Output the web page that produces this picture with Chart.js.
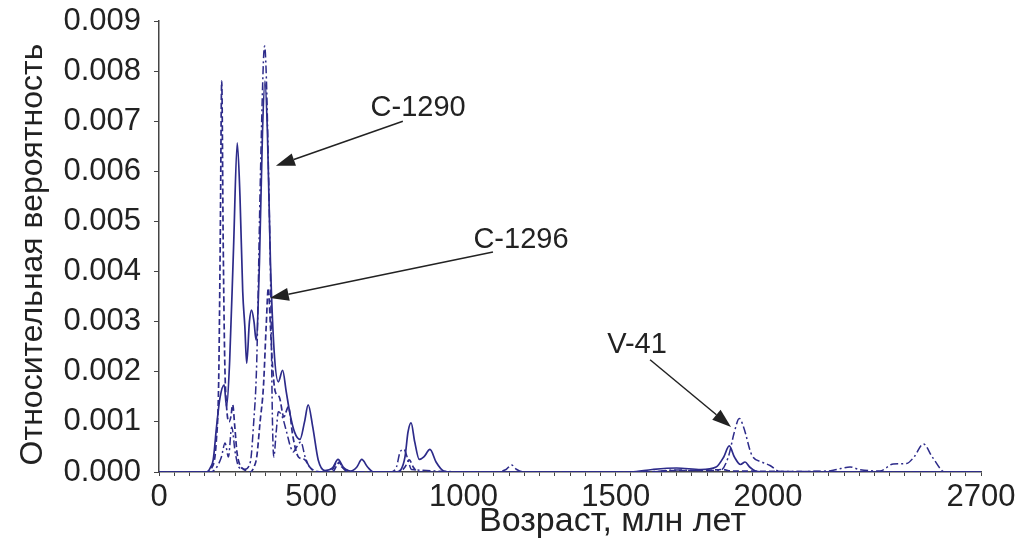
<!DOCTYPE html>
<html>
<head>
<meta charset="utf-8">
<script src="https://cdn.jsdelivr.net/npm/chart.js@4"></script>
<style>
  body { margin: 0; background: #fff; }
  #wrap { width: 1030px; height: 547px; }
</style>
</head>
<body>
<div id="wrap"><canvas id="chart" width="1030" height="547"></canvas></div>
<script>
// age (Ma) / relative probability pairs
const c1290 = [
    [0, 0], [140, 0], [157, 0], [170, 0.0001], [178, 0.00024], [189, 0.0009], [200, 0.00147],
    [214, 0.00174], [222, 0.0013], [232, 0.0022], [245, 0.0045], [257, 0.00657], [266, 0.0055],
    [275, 0.0036], [282, 0.0029], [288, 0.00217], [297, 0.003], [304, 0.00323], [312, 0.003],
    [319, 0.00263], [330, 0.0042], [340, 0.0068], [348, 0.0078], [356, 0.0068], [366, 0.0042],
    [378, 0.00243], [392, 0.0018], [406, 0.00203], [418, 0.0016], [430, 0.00117], [445, 0.0008],
    [463, 0.00065], [478, 0.001], [490, 0.00134], [505, 0.0009], [523, 0.00024], [545, 0.00003],
    [570, 0.00008], [588, 0.00025], [605, 0.0001], [630, 0.00002], [650, 0.0001], [666, 0.00025],
    [685, 0.0001], [705, 0], [780, 0], [795, 0.00005], [808, 0.0003], [818, 0.0008], [828, 0.00098],
    [840, 0.0006], [855, 0.00025], [870, 0.0003], [890, 0.00045], [910, 0.0002], [935, 0.00002],
    [960, 0], [1550, 0], [1620, 0.00005], [1700, 0.00008], [1780, 0.00005], [1830, 0.0001],
    [1855, 0.0003], [1873, 0.00052], [1890, 0.0003], [1910, 0.00015], [1925, 0.0002], [1940, 0.0001],
    [1960, 0.00002], [2000, 0], [2700, 0]
];

const c1296 = [
    [0, 0], [150, 0], [175, 0.0001], [188, 0.0006], [196, 0.0018], [201, 0.0045], [206, 0.0078],
    [211, 0.0045], [216, 0.0022], [222, 0.0013], [230, 0.001], [236, 0.0011], [242, 0.00134],
    [249, 0.0009], [256, 0.0004], [265, 0.00015], [280, 0.00005], [300, 0], [312, 0.0001],
    [321, 0.0003], [332, 0.001], [343, 0.0017], [352, 0.0029], [359, 0.00367], [366, 0.0029],
    [372, 0.0022], [382, 0.0016], [395, 0.0015], [410, 0.0011], [425, 0.0013], [440, 0.0007],
    [458, 0.0003], [478, 0.00025], [495, 0.0001], [515, 0], [570, 0], [583, 0.00012], [592, 0.0002],
    [602, 0.0001], [620, 0], [790, 0], [808, 0.0001], [822, 0.00024], [835, 0.0001], [850, 0],
    [1600, 0], [1700, 0.00003], [1800, 0.00003], [1850, 0.00005], [1880, 0.00002], [2700, 0]
];

const v41 = [
    [0, 0], [170, 0], [190, 0.0001], [205, 0.0003], [217, 0.00058], [228, 0.0003], [239, 0.0009],
    [250, 0.0004], [262, 0.0001], [280, 0.00005], [300, 0.0002], [310, 0.0009], [321, 0.0022],
    [332, 0.0056], [343, 0.0082], [347, 0.0085], [353, 0.0078], [359, 0.0062], [367, 0.0036],
    [373, 0.0009], [377, 0.0003], [385, 0.0008], [392, 0.0012], [405, 0.0011], [419, 0.0008],
    [432, 0.0005], [441, 0.0004], [452, 0.0005], [466, 0.0006], [480, 0.0003], [495, 0.0001],
    [540, 0], [570, 0.00005], [585, 0.0002], [600, 0.0001], [620, 0.00003], [650, 0], [760, 0],
    [780, 0.0001], [792, 0.0004], [805, 0.00045], [815, 0.0003], [830, 0.00005], [1100, 0],
    [1140, 0.00005], [1158, 0.00014], [1175, 0.00005], [1200, 0], [1600, 0], [1700, 0.00004],
    [1780, 0.00003], [1843, 0.00003], [1870, 0.0003], [1890, 0.0008], [1906, 0.00107], [1920, 0.0009],
    [1947, 0.00034], [1980, 0.0002], [2007, 0.00013], [2040, 0.00001], [2200, 0.00002], [2240, 0.00007],
    [2270, 0.0001], [2300, 0.00005], [2368, 0.00002], [2412, 0.00016], [2456, 0.00017], [2480, 0.0003],
    [2511, 0.00056], [2540, 0.0003], [2582, 0], [2700, 0]
];

const sampleNames = ['C-1290', 'C-1296', 'V-41'];

const xTickValues = [0, 500, 1000, 1500, 2000, 2700];
const xTickLabels = ['0', '500', '1000', '1500', '2000', '2700'];
const xMinorStep = 50;

// callout text centres and arrows, in data units (age, probability)
const calloutText = [[851, 0.00726], [1189, 0.00463], [1570, 0.00253]];
const arrowFrom = [[801, 0.00700], [1097, 0.00439], [1613, 0.00224]];
const arrowTo = [[384, 0.00611], [364, 0.00347], [1879, 0.00090]];

const NAVY = '#2d2b8a';
const INK = '#222';
const FONT = "'Liberation Sans', Arial, sans-serif";

function toPoints(pairs) {
    return pairs.map(p => ({ x: p[0], y: p[1] }));
}

const callouts = {
    id: 'callouts',
    afterDatasetsDraw(chart) {
        const { ctx, scales: { x, y } } = chart;
        ctx.save();
        ctx.fillStyle = INK;
        ctx.strokeStyle = INK;
        ctx.lineWidth = 1.5;
        ctx.font = `29px ${FONT}`;
        ctx.textAlign = 'center';
        ctx.textBaseline = 'middle';
        sampleNames.forEach((name, i) => {
            ctx.fillText(name, x.getPixelForValue(calloutText[i][0]), y.getPixelForValue(calloutText[i][1]));

            const x0 = x.getPixelForValue(arrowFrom[i][0]);
            const y0 = y.getPixelForValue(arrowFrom[i][1]);
            const x1 = x.getPixelForValue(arrowTo[i][0]);
            const y1 = y.getPixelForValue(arrowTo[i][1]);
            const ang = Math.atan2(y1 - y0, x1 - x0);
            const headLen = 19, headW = 6.5;
            const bx = x1 - headLen * Math.cos(ang);
            const by = y1 - headLen * Math.sin(ang);

            ctx.beginPath();
            ctx.moveTo(x0, y0);
            ctx.lineTo(bx, by);
            ctx.stroke();

            ctx.beginPath();
            ctx.moveTo(x1, y1);
            ctx.lineTo(bx + headW * Math.sin(ang), by - headW * Math.cos(ang));
            ctx.lineTo(bx - headW * Math.sin(ang), by + headW * Math.cos(ang));
            ctx.closePath();
            ctx.fill();
        });
        ctx.restore();
    }
};

const lineStyle = {
    borderColor: NAVY,
    borderWidth: 1.7,
    pointRadius: 0,
    fill: false,
    cubicInterpolationMode: 'monotone'
};

new Chart(document.getElementById('chart'), {
    type: 'line',
    data: {
        datasets: [
            { label: sampleNames[0], data: toPoints(c1290), ...lineStyle },
            { label: sampleNames[1], data: toPoints(c1296), ...lineStyle, borderDash: [6, 3] },
            { label: sampleNames[2], data: toPoints(v41), ...lineStyle, borderWidth: 1.5, borderDash: [8, 3, 2, 3] }
        ]
    },
    options: {
        responsive: false,
        animation: false,
        layout: { padding: { top: 21, right: 49, bottom: 0, left: 0 } },
        plugins: {
            legend: { display: false },
            tooltip: { enabled: false }
        },
        scales: {
            x: {
                type: 'linear',
                min: 0,
                max: 2700,
                afterFit: scale => { scale.height = 75; },
                afterBuildTicks: scale => {
                    const ticks = [];
                    for (let v = 0; v <= 2700; v += xMinorStep) ticks.push({ value: v });
                    scale.ticks = ticks;
                },
                ticks: {
                    autoSkip: false,
                    maxRotation: 0,
                    minRotation: 0,
                    padding: 3,
                    color: INK,
                    font: { family: FONT, size: 31 },
                    callback: v => {
                        const i = xTickValues.indexOf(v);
                        return i >= 0 ? xTickLabels[i] : '';
                    }
                },
                grid: { drawOnChartArea: false, drawTicks: true, tickLength: 4, color: '#444', lineWidth: 1 },
                border: { display: true, color: '#444', width: 1.5 },
                title: {
                    display: true,
                    text: '\u2002\u2002\u2002\u2002\u2002Возраст, млн лет',
                    color: INK,
                    font: { family: FONT, size: 34 },
                    padding: { top: 0, bottom: 5 }
                }
            },
            y: {
                min: 0,
                max: 0.009,
                afterFit: scale => { scale.width = 159; },
                ticks: {
                    stepSize: 0.001,
                    padding: 13,
                    color: INK,
                    // small lineHeight keeps the top label from pushing the plot area down
                    font: { family: FONT, size: 31, lineHeight: 0.5 },
                    callback: v => v.toFixed(3)
                },
                grid: { drawOnChartArea: false, drawTicks: true, tickLength: 5, color: '#444', lineWidth: 1 },
                border: { display: true, color: '#444', width: 1.5 },
                title: {
                    display: true,
                    text: 'Относительная вероятность\u2002',
                    color: INK,
                    font: { family: FONT, size: 32 },
                    padding: { top: 14, bottom: 0 }
                }
            }
        }
    },
    plugins: [callouts]
});
</script>
</body>
</html>
